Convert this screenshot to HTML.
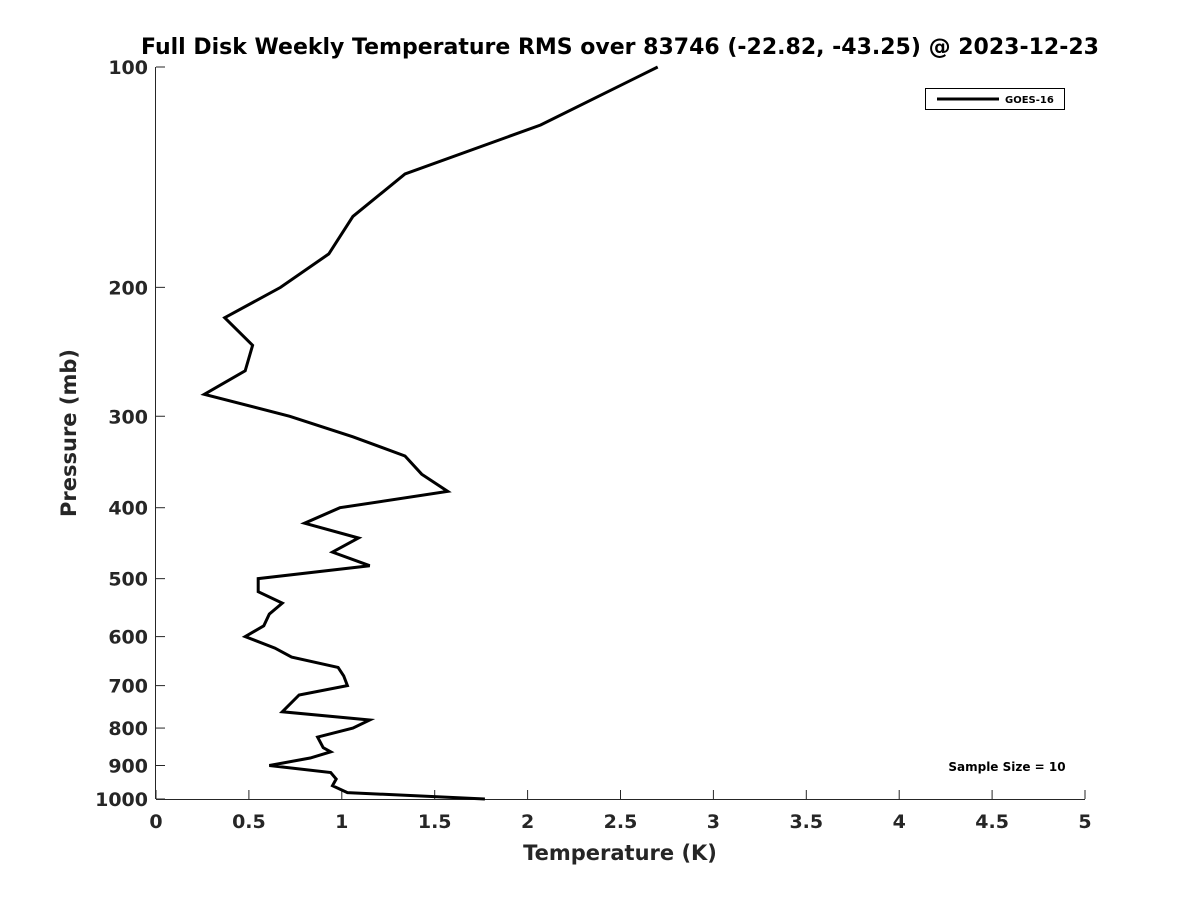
<!DOCTYPE html>
<html><head><meta charset="utf-8"><style>
html,body{margin:0;padding:0;background:#fff;}
svg{display:block;font-family:"DejaVu Sans","Liberation Sans",sans-serif;}
</style></head><body>
<svg id="chart" width="1200" height="900" viewBox="0 0 1200 900" xmlns="http://www.w3.org/2000/svg">
<rect width="1200" height="900" fill="#fff"/>
<text x="620" y="54" text-anchor="middle" font-size="22" font-weight="bold" fill="#000">Full Disk Weekly Temperature RMS over 83746 (-22.82, -43.25) @ 2023-12-23</text>
<g id="axes"></g>
<g id="series"></g>
<g>
<rect x="925.5" y="88.5" width="139" height="21" fill="#fff" stroke="#000" stroke-width="1"/>
<line x1="937" y1="99" x2="999" y2="99" stroke="#000" stroke-width="3"/>
<text x="1005" y="103" font-size="10" font-weight="bold">GOES-16</text>
</g>
<text x="1007" y="771" text-anchor="middle" font-size="12" font-weight="bold">Sample Size = 10</text>
<text x="620" y="860" text-anchor="middle" font-size="21" font-weight="bold" fill="#262626">Temperature (K)</text>
<text transform="translate(76,433) rotate(-90)" text-anchor="middle" font-size="21" font-weight="bold" fill="#262626">Pressure (mb)</text>
</svg>
<script>
const xTicks = [0,0.5,1,1.5,2,2.5,3,3.5,4,4.5,5];
const xTickLabels = ["0","0.5","1","1.5","2","2.5","3","3.5","4","4.5","5"];
const yTicks = [100,200,300,400,500,600,700,800,900,1000];
const yTickLabels = ["100","200","300","400","500","600","700","800","900","1000"];
const pressures = [100,120,140,160,180,200,220,240,260,280,300,320,340,360,380,400,420,440,460,480,500,521,540,559,580,600,622,640,661,679,700,721,760,780,800,823,851,862,879,900,920,939,959,980,1000];
const rmsValues = [2.70,2.07,1.34,1.06,0.93,0.67,0.37,0.52,0.48,0.26,0.72,1.06,1.34,1.43,1.57,0.99,0.80,1.09,0.95,1.15,0.55,0.55,0.68,0.61,0.58,0.48,0.64,0.73,0.98,1.01,1.03,0.77,0.68,1.15,1.06,0.87,0.90,0.94,0.83,0.61,0.94,0.97,0.95,1.03,1.77];
const L=156,R=1085,T=67,B=799;
const xs = v => L + (v-0)/(5-0)*(R-L);
const ys = p => T + Math.log10(p/100)/Math.log10(10)*(B-T);
const NS="http://www.w3.org/2000/svg";
const axes=document.getElementById('axes');
function mk(tag,attrs,parent){const e=document.createElementNS(NS,tag);for(const k in attrs)e.setAttribute(k,attrs[k]);parent.appendChild(e);return e;}
let ax=mk('line',{x1:L,y1:B+0.5,x2:R,y2:B+0.5,stroke:'#262626','stroke-width':1},axes);


let ay=mk('line',{x1:L-0.5,y1:T,x2:L-0.5,y2:B,stroke:'#262626','stroke-width':1},axes);


xTicks.forEach((v,i)=>{
  const x=xs(v);
  const t=mk('line',{x1:x,y1:B,x2:x,y2:B-9,stroke:'#262626','stroke-width':1},axes);
  
  
  const tx=mk('text',{x:x,y:B+29,'text-anchor':'middle','font-size':19,'font-weight':'bold',fill:'#262626'},axes);
  tx.textContent=xTickLabels[i];
  
  
});
yTicks.forEach((p,i)=>{
  const y=ys(p);
  const t=mk('line',{x1:L,y1:y,x2:L+9,y2:y,stroke:'#262626','stroke-width':1},axes);
  
  
  const tx=mk('text',{x:L-8,y:y+7,'text-anchor':'end','font-size':19,'font-weight':'bold',fill:'#262626'},axes);
  tx.textContent=yTickLabels[i];
  
  
});
const pts=pressures.map((p,i)=>xs(rmsValues[i]).toFixed(1)+','+ys(p).toFixed(1)).join(' ');
const line=mk('polyline',{points:pts,fill:'none',stroke:'#000','stroke-width':3,'stroke-linejoin':'miter'},document.getElementById('series'));


</script>
</body></html>
